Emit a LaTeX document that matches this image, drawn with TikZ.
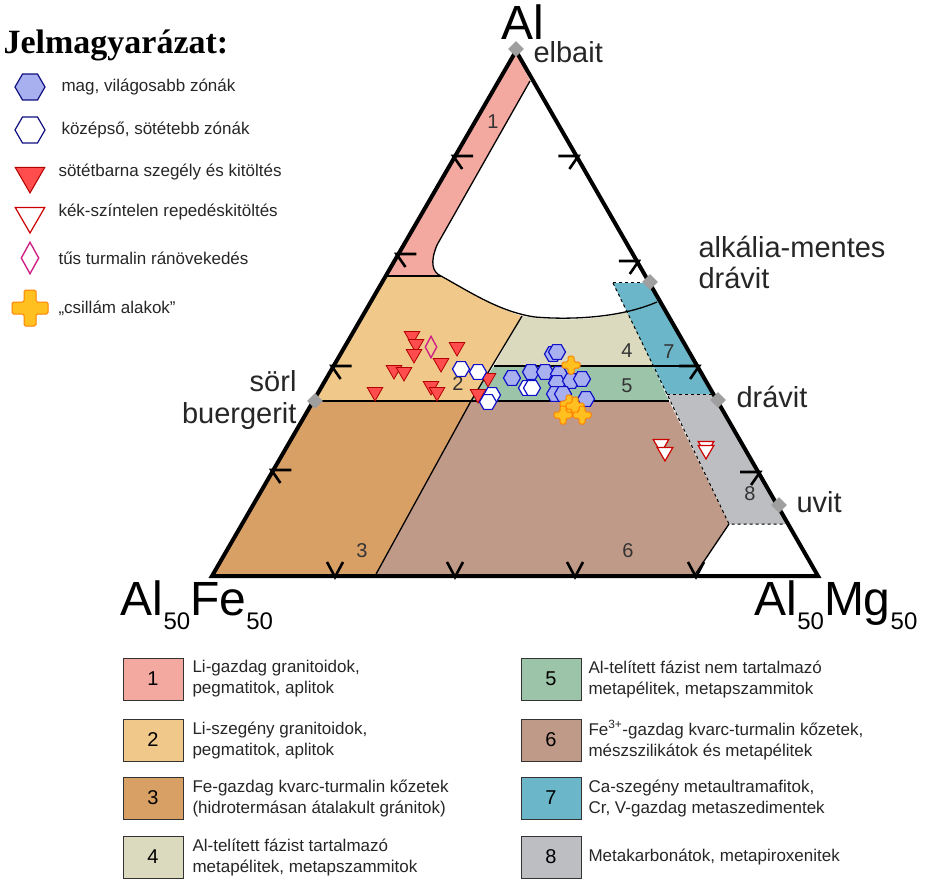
\documentclass[tikz,border=0pt]{standalone}
\usepackage{fontspec}
\setmainfont{Liberation Sans}
\newfontfamily\titlefont{Liberation Serif}
\usetikzlibrary{shapes.geometric,arrows.meta}
\definecolor{cA}{HTML}{F4A9A0}\definecolor{cB}{HTML}{F0C88A}\definecolor{cC}{HTML}{D9A066}
\definecolor{cD}{HTML}{DBD9BE}\definecolor{cE}{HTML}{9CC4A8}\definecolor{cF}{HTML}{C09A88}
\definecolor{cG}{HTML}{6BB7C9}\definecolor{cH}{HTML}{BDBEC2}\definecolor{orng}{HTML}{FFC020}
\definecolor{hexb}{HTML}{1010C8}\definecolor{hexfill}{HTML}{A8B0F0}\definecolor{navy}{HTML}{101080}
\tikzset{
 bnd/.style={line width=1.3pt},
 dsh/.style={line width=1pt,dashed},
 hexf/.style={regular polygon,regular polygon sides=6,draw=hexb,fill=hexfill,line width=1.2pt,inner sep=0pt,minimum size=17pt},
 hexo/.style={regular polygon,regular polygon sides=6,draw=hexb,fill=white,line width=1.2pt,inner sep=0pt,minimum size=17pt},
 trif/.style={regular polygon,regular polygon sides=3,shape border rotate=180,draw=red!70!black,fill=red!70,line width=0.8pt,inner sep=0pt,minimum size=18pt},
 trio/.style={regular polygon,regular polygon sides=3,shape border rotate=180,draw=red!80!black,fill=white,line width=1.2pt,inner sep=0pt,minimum size=18pt},
 dia/.style={diamond,draw=magenta!70!violet,line width=1.4pt,inner sep=0pt,minimum width=12pt,minimum height=22pt},
 gmark/.style={diamond,fill=gray!75,inner sep=0pt,minimum size=16pt},
 lab/.style={font=\fontsize{29}{31}\selectfont,text=black!85},
 num/.style={font=\fontsize{20}{22}\selectfont,text=black!80},
 leg/.style={font=\fontsize{17}{21}\selectfont,anchor=west,align=left,text=black!85},
 box/.style={draw=black!80,line width=1pt,minimum width=60pt,minimum height=42pt,font=\fontsize{20}{22}\selectfont},
 tk/.style={line width=2.6pt},
 crs/.pic={\fill[orng,draw=orange,line width=1pt,rounded corners=1.5pt] (-3,-9) -- ++(6,0) -- ++(0,6) -- ++(6,0) -- ++(0,6) -- ++(-6,0) -- ++(0,6) -- ++(-6,0) -- ++(0,-6) -- ++(-6,0) -- ++(0,-6) -- ++(6,0) -- cycle;},
}
\begin{document}
\begin{tikzpicture}[x=1pt,y=-1pt]
\useasboundingbox (0,0) rectangle (925,882);
% regions
\fill[cA] (516,51) -- (530,81) -- (437,245) .. controls (430,262) and (432,272) .. (441,276) -- (386,276) -- cycle;
\fill[cB] (386,276) -- (441,276) .. controls (470,292) and (500,310) .. (522,316) -- (471,401) -- (313,401) -- cycle;
\fill[cD] (522,316) .. controls (560,322) and (600,320) .. (629,311) -- (653,366) -- (494,366) -- cycle;
\fill[cE] (494,366) -- (653,366) -- (669,401) -- (471,401) -- cycle;
\fill[cG] (613,283) -- (649,283) -- (713,394) -- (667,394) -- cycle;
\fill[cH] (667,394) -- (713,394) -- (788,524) -- (729,524) -- cycle;
\fill[cC] (313,401) -- (471,401) -- (375,576) -- (212,576) -- cycle;
\fill[cF] (471,401) -- (669,401) -- (729,524) -- (694,576) -- (375,576) -- cycle;
% boundaries
\draw[bnd] (530,81) -- (437,245) .. controls (430,262) and (432,272) .. (441,276)
  .. controls (470,292) and (500,312) .. (535,317) .. controls (570,320) and (620,318) .. (657,302);
\draw[bnd] (386,276) -- (441,276);
\draw[bnd] (522,316) -- (471,401) -- (375,576);
\draw[bnd] (494,366) -- (696,366);
\draw[bnd] (313,401) -- (669,401);
\draw[bnd] (729,524) -- (694,576);
\draw[dsh] (613,283) -- (649,283);
\draw[dsh] (613,283) -- (667,394) -- (729,524) -- (784,524);
\draw[dsh] (667,394) -- (712,394);
% triangle
\coordinate (A) at (516,51); \coordinate (L) at (212,576); \coordinate (R) at (818,576);
\draw[line width=4pt,line join=miter] (A) -- (L) -- (R) -- cycle;
% ticks
\foreach \y in {156,254,366,470} { \draw[tk] ({516-(\y-51)*0.579+18},\y) -- ({516-(\y-51)*0.579-2},\y) -- ++(9,13); }
\foreach \y in {156,261,366,472} { \draw[tk] ({516+(\y-51)*0.575-18},\y) -- ({516+(\y-51)*0.575+2},\y) -- ++(-9,13); }
\foreach \x in {335,455,575,696} { \draw[tk] (\x-8,562) -- (\x,577) -- (\x+8,562); }
% gray markers
\node[gmark] (m1) at (516,49) {}; \node[gmark] (m2) at (650,282) {};
\node[gmark] (m3) at (315,401) {}; \node[gmark] (m4) at (718,400) {};
\node[gmark] (m5) at (779,505) {};
% labels
\node[font=\fontsize{48}{48}\selectfont] (al) at (523,22) {Al};
\node[lab,anchor=west] (el) at (530,52) {elbait};
\node[lab,anchor=west,align=left] (alk) at (695,262) {alkália-mentes\\drávit};
\node[lab,anchor=east] (so) at (300,381) {sörl};
\node[lab,anchor=east] (bu) at (300,416) {buergerit};
\node[lab,anchor=west] (dr) at (733,397) {drávit};
\node[lab,anchor=west] (uv) at (793,502) {uvit};
\node[font=\fontsize{48}{48}\selectfont] (fe) at (197,605) {Al{\fontsize{24}{24}\selectfont\raisebox{-14pt}{50}}Fe{\fontsize{24}{24}\selectfont\raisebox{-14pt}{50}}};
\node[font=\fontsize{48}{48}\selectfont] (mg) at (836,605) {Al{\fontsize{24}{24}\selectfont\raisebox{-14pt}{50}}Mg{\fontsize{24}{24}\selectfont\raisebox{-14pt}{50}}};
% numbers
\node[num] at (493,122) {1}; \node[num] at (458,384) {2}; \node[num] at (362,551) {3};
\node[num] at (627,351) {4}; \node[num] at (627,386) {5}; \node[num] at (628,551) {6};
\node[num] at (669,352) {7}; \node[num] at (750,494) {8};
% data
\foreach \p in {(412,336),(416,344),(414,354),(457,347),(441,363),(394,370),(404,372),(375,392),(431,386),(437,392),(488,378),(478,394)} \node[trif] at \p {};
\node[dia] at (431,347) {};
\foreach \p in {(461,369),(478,372),(492,395),(488,402),(527,388),(532,388)} \node[hexo] at \p {};
\foreach \p in {(553,354),(557,352),(512,378),(531,372),(545,372),(559,374),(557,383),(571,381),(582,379),(555,394),(563,394),(586,399)} \node[hexf] at \p {};
\foreach \p in {(661,444),(665,452),(706,446),(706,450)} \node[trio] at \p {};
\foreach \p in {(571,365),(569,404),(575,406),(563,415),(582,415)} \pic at \p {crs};
% top legend
\node[font=\titlefont\bfseries\fontsize{34}{36}\selectfont,anchor=west] (jt) at (0,45) {Jelmagyarázat:};
\node[hexf,draw=navy,minimum size=30pt] (k1) at (30,87) {}; \node[leg] at (58,87) {mag, világosabb zónák};
\node[hexo,draw=navy,minimum size=30pt] (k2) at (30,130) {}; \node[leg] at (58,130) {középső, sötétebb zónák};
\node[trif,minimum size=34pt,line width=1pt] (k3) at (30,176) {}; \node[leg] at (55,172) {sötétbarna szegély és kitöltés};
\node[trio,minimum size=34pt] (k4) at (30,216) {}; \node[leg] at (55,212) {kék-színtelen repedéskitöltés};
\node[dia,minimum width=18pt,minimum height=32pt] (k5) at (30,258) {}; \node[leg] at (55,258) {tűs turmalin ránövekedés};
\pic[scale=2] at (30,308) {crs};
\node[leg] at (55,308) {„csillám alakok”};
% bottom legend
\node[box,fill=cA] (b1) at (153,679) {1}; \node[leg] at (189,679) {Li-gazdag granitoidok,\\pegmatitok, aplitok};
\node[box,fill=cB] (b2) at (153,740) {2}; \node[leg] at (189,740) {Li-szegény granitoidok,\\pegmatitok, aplitok};
\node[box,fill=cC] (b3) at (153,798) {3}; \node[leg] at (189,798) {Fe-gazdag kvarc-turmalin kőzetek\\(hidrotermásan átalakult gránitok)};
\node[box,fill=cD] (b4) at (153,857) {4}; \node[leg] at (189,857) {Al-telített fázist tartalmazó\\metapélitek, metapszammitok};
\node[box,fill=cE] (b5) at (551,679) {5}; \node[leg] at (585,679) {Al-telített fázist nem tartalmazó\\metapélitek, metapszammitok};
\node[box,fill=cF] (b6) at (551,740) {6}; \node[leg] at (585,740) {Fe\textsuperscript{3+}-gazdag kvarc-turmalin kőzetek,\\mészszilikátok és metapélitek};
\node[box,fill=cG] (b7) at (551,798) {7}; \node[leg] at (585,798) {Ca-szegény metaultramafitok,\\Cr, V-gazdag metaszedimentek};
\node[box,fill=cH] (b8) at (551,857) {8}; \node[leg] at (585,857) {Metakarbonátok, metapiroxenitek};
\end{tikzpicture}
\end{document}
